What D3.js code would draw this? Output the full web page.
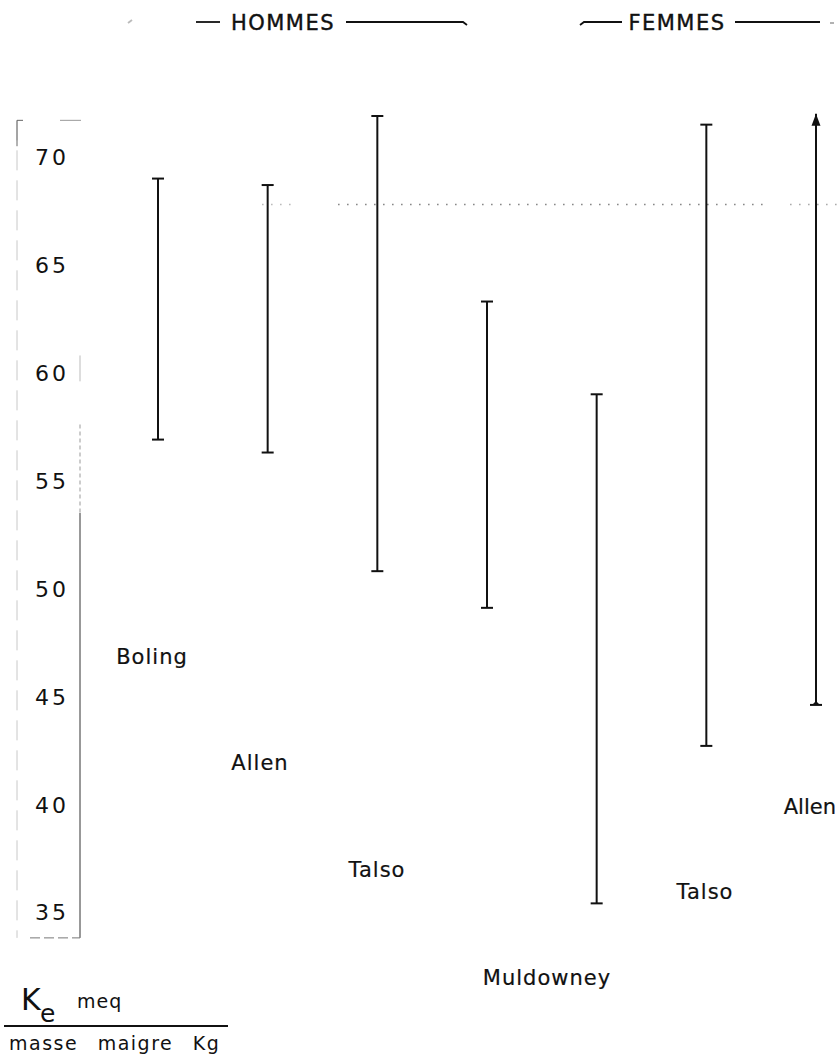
<!DOCTYPE html>
<html><head><meta charset="utf-8">
<script src="https://cdn.jsdelivr.net/npm/d3@7/dist/d3.min.js"></script>
<style>
html,body{margin:0;padding:0;background:#fff;}
svg{display:block;}
text{font-family:"DejaVu Sans","Noto Sans",sans-serif;fill:#111;}
</style></head>
<body>
<svg id="chart" width="838" height="1059"></svg>
<script>
// ---- data ----
const barIds   = ["H-Boling","H-Allen","H-Talso","H-Muldowney","F-Muldowney","F-Talso","F-Allen"];
const barLow   = [56.9, 56.3, 50.8, 49.1, 35.4, 42.7, 44.6];
const barHigh  = [69.0, 68.7, 71.9, 63.3, 59.0, 71.5, 72.0];
const barArrow = [false,false,false,false,false,false,true];
const yTicks   = [35, 40, 45, 50, 55, 60, 65, 70];
const labelText = ["Boling","Allen","Talso","Muldowney","Talso","Allen"];
const refValue = 67.8;            // dotted reference line
const groupNames = ["HOMMES","FEMMES"];

// ---- layout ----
const svg = d3.select("#chart");
const y = d3.scaleLinear().domain([35, 70]).range([912, 157]);
const x = d3.scalePoint().domain(barIds).range([158, 816]);
const ink = "#111";

// frame around tick labels (faint scanned box)
const fr = svg.append("g").attr("stroke","#c8c8c8").attr("fill","none").attr("stroke-width",1);
fr.append("line").attr("x1",17).attr("x2",17).attr("y1",y(71.7)).attr("y2",y(33.8)).attr("stroke-dasharray","20 10");
fr.append("line").attr("x1",17).attr("x2",17).attr("y1",y(71.7)).attr("y2",y(70.5)).attr("stroke","#666");
fr.append("line").attr("x1",17).attr("x2",23).attr("y1",y(71.7)).attr("y2",y(71.7)).attr("stroke","#666");
fr.append("line").attr("x1",60).attr("x2",81).attr("y1",y(71.7)).attr("y2",y(71.7)).attr("stroke","#999");
fr.append("line").attr("x1",80).attr("x2",80).attr("y1",y(60.8)).attr("y2",y(59.6)).attr("stroke","#bbb");
fr.append("line").attr("x1",80).attr("x2",80).attr("y1",y(57.6)).attr("y2",y(53.5)).attr("stroke","#999").attr("stroke-dasharray","4 3");
fr.append("line").attr("x1",80).attr("x2",80).attr("y1",y(53.5)).attr("y2",y(33.8)).attr("stroke","#333");
fr.append("line").attr("x1",30).attr("x2",80).attr("y1",y(33.8)).attr("y2",y(33.8)).attr("stroke","#777").attr("stroke-dasharray","10 4");

// y tick labels via axis
const axis = d3.axisLeft(y).tickValues(yTicks).tickSize(0).tickPadding(0);
const ag = svg.append("g").attr("transform","translate(69,0)").call(axis);
ag.select(".domain").remove();
ag.selectAll("text").attr("font-size",22).attr("letter-spacing","3px")
  .attr("font-family","DejaVu Sans, sans-serif").attr("fill","#111").attr("dy","0.36em");

// dotted reference line
const dot = svg.append("g").attr("stroke","#888").attr("stroke-width",1.6).attr("stroke-dasharray","1.6 7.4");
dot.append("line").attr("x1",262).attr("x2",292).attr("y1",y(refValue)).attr("y2",y(refValue)).attr("stroke","#bbb");
dot.append("line").attr("x1",338).attr("x2",766).attr("y1",y(refValue)).attr("y2",y(refValue));
dot.append("line").attr("x1",790).attr("x2",838).attr("y1",y(refValue)).attr("y2",y(refValue)).attr("stroke","#aaa");

// range bars
const bars = barIds.map((id,i)=>({id, lo:barLow[i], hi:barHigh[i], arrow:barArrow[i]}));
const g = svg.append("g").attr("stroke",ink).attr("stroke-width",2);
g.selectAll("line.v").data(bars).join("line").attr("class","v")
  .attr("x1",d=>x(d.id)).attr("x2",d=>x(d.id))
  .attr("y1",d=>y(d.hi)).attr("y2",d=>y(d.lo));
g.selectAll("line.lo").data(bars).join("line").attr("class","lo")
  .attr("x1",d=>x(d.id)-6).attr("x2",d=>x(d.id)+6)
  .attr("y1",d=>y(d.lo)).attr("y2",d=>y(d.lo));
g.selectAll("line.hi").data(bars.filter(d=>!d.arrow)).join("line").attr("class","hi")
  .attr("x1",d=>x(d.id)-6).attr("x2",d=>x(d.id)+6)
  .attr("y1",d=>y(d.hi)).attr("y2",d=>y(d.hi));
svg.selectAll("path.arrow").data(bars.filter(d=>d.arrow)).join("path").attr("class","arrow")
  .attr("fill",ink)
  .attr("d",d=>{const cx=x(d.id), cy=y(d.hi); return `M${cx},${cy} L${cx-4.5},${cy+12} L${cx+4.5},${cy+12} Z`;});
svg.selectAll("path.foot").data(bars.filter(d=>d.arrow)).join("path").attr("class","foot")
  .attr("fill",ink)
  .attr("d",d=>{const cx=x(d.id), cy=y(d.lo); return `M${cx},${cy-4} L${cx-4},${cy} L${cx+4},${cy} Z`;});

// author labels (staggered below bars)
const labelPos = [[152,657],[260,763],[377,870],[547,978],[705,892],[836,807]];
svg.selectAll("text.lab").data(labelText).join("text").attr("class","lab")
  .attr("x",(d,i)=>labelPos[i][0]).attr("y",(d,i)=>labelPos[i][1])
  .attr("dy","0.35em")
  .attr("text-anchor",(d,i)=>i===5?"end":"middle")
  .attr("font-size",21).attr("letter-spacing",(d,i)=>i===5?"0px":"1px")
  .attr("stroke","#111").attr("stroke-width",0.2)
  .text(d=>d);

// group headers
const hg = svg.append("g").attr("stroke",ink).attr("stroke-width",1.8).attr("fill","none");
hg.append("line").attr("x1",128).attr("x2",132).attr("y1",23).attr("y2",20).attr("stroke","#bbb");
hg.append("line").attr("x1",196).attr("x2",220).attr("y1",22).attr("y2",22);
hg.append("path").attr("d","M346,22 L463,22 L467,25");
hg.append("path").attr("d","M580,25 L584,22 L622,22");
hg.append("line").attr("x1",735).attr("x2",820).attr("y1",22).attr("y2",22);
hg.append("line").attr("x1",830).attr("x2",834).attr("y1",23).attr("y2",23).attr("stroke","#aaa");
svg.append("text").attr("x",283).attr("y",22).attr("dy","0.36em").attr("text-anchor","middle")
  .attr("font-size",21).attr("letter-spacing","1.5px").attr("stroke","#111").attr("stroke-width",0.4).text(groupNames[0]);
svg.append("text").attr("x",677).attr("y",22).attr("dy","0.36em").attr("text-anchor","middle")
  .attr("font-size",21).attr("letter-spacing","1.5px").attr("stroke","#111").attr("stroke-width",0.4).text(groupNames[1]);

// unit label (fraction)
const ul = svg.append("g");
ul.append("text").attr("x",21).attr("y",1010).attr("font-size",30).text("K");
ul.append("text").attr("x",40).attr("y",1022).attr("font-size",25).text("e");
ul.append("text").attr("x",77).attr("y",1008).attr("font-size",19).attr("letter-spacing","1px").text("meq");
ul.append("line").attr("x1",4).attr("x2",228).attr("y1",1026).attr("y2",1026).attr("stroke",ink).attr("stroke-width",1.8);
ul.append("text").attr("x",9).attr("y",1050).attr("font-size",19).attr("letter-spacing","1.5px")
  .attr("word-spacing","12px").text("masse maigre Kg");
</script>
</body></html>
